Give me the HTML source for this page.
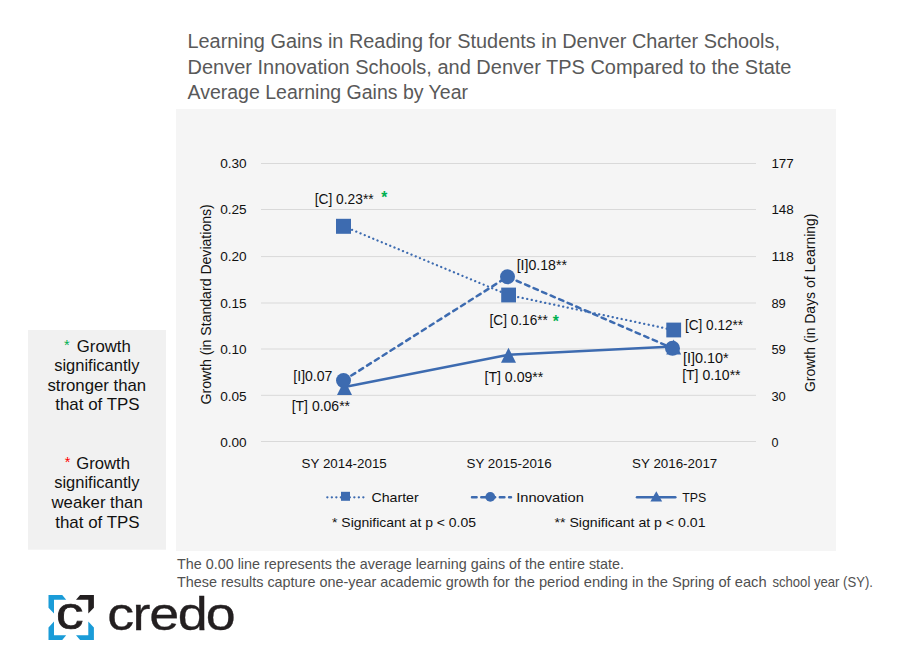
<!DOCTYPE html>
<html><head><meta charset="utf-8"><title>Learning Gains in Reading</title>
<style>
html,body{margin:0;padding:0;background:#fff;}
body{width:902px;height:670px;overflow:hidden;position:relative;font-family:"Liberation Sans",sans-serif;}
svg{position:absolute;left:0;top:0;display:block}
text{font-family:"Liberation Sans",sans-serif;}
.t{fill:#595959;font-size:20px}
.ax{fill:#111;font-size:13.6px}
.dl{fill:#111;font-size:13.8px}
.lg{fill:#111;font-size:13.4px}
.fn{fill:#505050;font-size:14.2px}
.side{fill:#111;font-size:16.6px}
</style></head>
<body>
<svg width="902" height="670" viewBox="0 0 902 670">
<rect x="0" y="0" width="902" height="670" fill="#ffffff"/>
<!-- panels -->
<rect x="176" y="109" width="660" height="442" fill="#f5f5f5"/>
<rect x="28" y="330" width="138" height="219.7" fill="#f1f1f1"/>

<!-- title -->
<text class="t" x="187.5" y="48.1" textLength="592.5" lengthAdjust="spacingAndGlyphs">Learning Gains in Reading for Students in Denver Charter Schools,</text>
<text class="t" x="187.5" y="73.8" textLength="604" lengthAdjust="spacingAndGlyphs">Denver Innovation Schools, and Denver TPS Compared to the State</text>
<text class="t" x="187.5" y="99.3" textLength="280.5" lengthAdjust="spacingAndGlyphs">Average Learning Gains by Year</text>

<!-- gridlines -->
<g stroke="#d9d9d9" stroke-width="1">
<line x1="261" x2="756" y1="163.5" y2="163.5"/>
<line x1="261" x2="756" y1="209.5" y2="209.5"/>
<line x1="261" x2="756" y1="256.6" y2="256.6"/>
<line x1="261" x2="756" y1="303" y2="303"/>
<line x1="261" x2="756" y1="349" y2="349"/>
<line x1="261" x2="756" y1="395.3" y2="395.3"/>
<line x1="261" x2="756" y1="441.5" y2="441.5"/>
</g>

<!-- left axis labels -->
<g class="ax">
<text x="220.2" y="167.9" textLength="26.5" lengthAdjust="spacingAndGlyphs">0.30</text>
<text x="220.2" y="214" textLength="26.5" lengthAdjust="spacingAndGlyphs">0.25</text>
<text x="220.2" y="261" textLength="26.5" lengthAdjust="spacingAndGlyphs">0.20</text>
<text x="220.2" y="308" textLength="26.5" lengthAdjust="spacingAndGlyphs">0.15</text>
<text x="220.2" y="354" textLength="26.5" lengthAdjust="spacingAndGlyphs">0.10</text>
<text x="220.2" y="401" textLength="26.5" lengthAdjust="spacingAndGlyphs">0.05</text>
<text x="220.2" y="446.8" textLength="26.5" lengthAdjust="spacingAndGlyphs">0.00</text>
</g>
<!-- right axis labels -->
<g class="ax">
<text x="771.4" y="167.9" textLength="22.4" lengthAdjust="spacingAndGlyphs">177</text>
<text x="771.4" y="214" textLength="22.4" lengthAdjust="spacingAndGlyphs">148</text>
<text x="771.4" y="261" textLength="22.4" lengthAdjust="spacingAndGlyphs">118</text>
<text x="771.4" y="308" textLength="14.4" lengthAdjust="spacingAndGlyphs">89</text>
<text x="771.4" y="354" textLength="14.4" lengthAdjust="spacingAndGlyphs">59</text>
<text x="771.4" y="401" textLength="14.4" lengthAdjust="spacingAndGlyphs">30</text>
<text x="771.4" y="446.8" textLength="7" lengthAdjust="spacingAndGlyphs">0</text>
</g>
<!-- axis titles -->
<text class="ax" style="font-size:13.9px" transform="translate(211.3,404.5) rotate(-90)" textLength="200.3" lengthAdjust="spacingAndGlyphs">Growth (in Standard Deviations)</text>
<text class="ax" style="font-size:13.9px" transform="translate(814.8,392) rotate(-90)" textLength="178.5" lengthAdjust="spacingAndGlyphs">Growth (in Days of Learning)</text>

<!-- category labels -->
<g class="ax" text-anchor="middle">
<text x="344.2" y="468" textLength="85.2" lengthAdjust="spacingAndGlyphs">SY 2014-2015</text>
<text x="509.1" y="468" textLength="85.2" lengthAdjust="spacingAndGlyphs">SY 2015-2016</text>
<text x="674.7" y="468" textLength="85.2" lengthAdjust="spacingAndGlyphs">SY 2016-2017</text>
</g>

<!-- series lines -->
<g fill="none" stroke="#3d6bb0" stroke-width="2.5" stroke-linecap="round">
<polyline points="343.5,226.3 508.5,295 673.5,330" stroke-dasharray="0.1,4.5" stroke-width="2.25"/>
<polyline points="343.5,380.5 507.5,276.8 672.5,348.2" stroke-dasharray="4.6,4.67"/>
<polyline points="344.5,387 508.5,354.7 673.5,346.5"/>
</g>
<!-- markers -->
<g fill="#3d6bb0">
<polygon points="344.5,380 352,395 337,395"/>
<polygon points="508.5,347.7 516,362.7 501,362.7"/>
<polygon points="673.7,339.6 681.2,354.4 666.2,354.4"/>
<rect x="336" y="218.8" width="15" height="15"/>
<rect x="501.2" y="287.6" width="14.8" height="14.8"/>
<rect x="666.3" y="322.6" width="14.8" height="14.8"/>
<circle cx="343.5" cy="380.5" r="7.5"/>
<circle cx="507.5" cy="276.8" r="7.5"/>
<circle cx="672.5" cy="348.2" r="7.5"/>
</g>

<!-- data labels -->
<g class="dl">
<text x="314.70" y="203.9" textLength="58.95" lengthAdjust="spacingAndGlyphs">[C] 0.23**</text>
<text x="293.32" y="381.0" textLength="39.10" lengthAdjust="spacingAndGlyphs">[I]0.07</text>
<text x="291.70" y="410.8" textLength="58.34" lengthAdjust="spacingAndGlyphs">[T] 0.06**</text>
<text x="516.70" y="270.3" textLength="50.26" lengthAdjust="spacingAndGlyphs">[I]0.18**</text>
<text x="489.55" y="324.7" textLength="58.25" lengthAdjust="spacingAndGlyphs">[C] 0.16**</text>
<text x="484.47" y="381.5" textLength="58.87" lengthAdjust="spacingAndGlyphs">[T] 0.09**</text>
<text x="685.01" y="329.6" textLength="58.12" lengthAdjust="spacingAndGlyphs">[C] 0.12**</text>
<text x="682.93" y="362.8" textLength="45.72" lengthAdjust="spacingAndGlyphs">[I]0.10*</text>
<text x="682.16" y="379.5" textLength="58.41" lengthAdjust="spacingAndGlyphs">[T] 0.10**</text>
</g>
<g font-size="15.6" font-weight="bold" fill="#00b050">
<text x="381.2" y="203.3">*</text>
<text x="552.8" y="327.1">*</text>
</g>

<!-- legend -->
<g fill="none" stroke="#3d6bb0" stroke-width="2.5" stroke-linecap="round">
<line x1="327.3" x2="365" y1="497.3" y2="497.3" stroke-dasharray="0.1,4.4" stroke-width="2.25"/>
<line x1="472" x2="511" y1="497.3" y2="497.3" stroke-dasharray="4.6,4.67"/>
<line x1="637" x2="675.3" y1="497.3" y2="497.3"/>
</g>
<g fill="#3d6bb0">
<rect x="341" y="491.8" width="9" height="9"/>
<circle cx="490.3" cy="496.9" r="4.9"/>
<polygon points="656.3,491.2 662.2,501.4 650.4,501.4"/>
</g>
<g class="lg">
<text x="371.4" y="502.4" textLength="47.3" lengthAdjust="spacingAndGlyphs">Charter</text>
<text x="516.2" y="502.4" textLength="67.6" lengthAdjust="spacingAndGlyphs">Innovation</text>
<text x="682.3" y="502.4" textLength="24" lengthAdjust="spacingAndGlyphs">TPS</text>
<text x="332" y="526.7" textLength="144" lengthAdjust="spacingAndGlyphs">* Significant at p &lt; 0.05</text>
<text x="554.5" y="526.7" textLength="151" lengthAdjust="spacingAndGlyphs">** Significant at p &lt; 0.01</text>
</g>

<!-- footnotes -->
<text class="fn" x="177" y="568.5" textLength="447" lengthAdjust="spacingAndGlyphs">The 0.00 line represents the average learning gains of the entire state.</text>
<text class="fn" x="177" y="586.5" textLength="332.8" lengthAdjust="spacingAndGlyphs">These results capture one-year academic growth for</text>
<text class="fn" x="514.4" y="586.5" textLength="252.2" lengthAdjust="spacingAndGlyphs">the period ending in the Spring of each</text>
<text class="fn" x="772.4" y="586.5" textLength="100.6" lengthAdjust="spacingAndGlyphs">school year (SY).</text>

<!-- side legend -->
<g class="side">
<text x="64" y="350.2" fill="#00b050" font-size="14.5">*</text>
<text x="76.8" y="351.6" textLength="54" lengthAdjust="spacingAndGlyphs">Growth</text>
<text x="54.2" y="371.3" textLength="85.2" lengthAdjust="spacingAndGlyphs">significantly</text>
<text x="47.4" y="390.6" textLength="98.8" lengthAdjust="spacingAndGlyphs">stronger than</text>
<text x="55.2" y="409.7" textLength="84.4" lengthAdjust="spacingAndGlyphs">that of TPS</text>
<text x="64.8" y="467.0" fill="#ff0000" font-size="14.5">*</text>
<text x="76.3" y="468.5" textLength="53.6" lengthAdjust="spacingAndGlyphs">Growth</text>
<text x="54.2" y="488.2" textLength="85.2" lengthAdjust="spacingAndGlyphs">significantly</text>
<text x="51.5" y="507.9" textLength="91.2" lengthAdjust="spacingAndGlyphs">weaker than</text>
<text x="55.2" y="527.7" textLength="84.4" lengthAdjust="spacingAndGlyphs">that of TPS</text>
</g>

<!-- logo -->
<g fill="#1a9cd8">
<polygon points="48.5,595.1 62.2,595.1 66.2,599.7 54,599.7 54,613.6 48.5,607.7"/>
<polygon points="48.5,639.9 62.2,639.9 66.2,635.2 54,635.2 54,621.6 48.5,627.4"/>
<polygon points="93.9,639.9 80.1,639.9 76,635.2 88.3,635.2 88.3,621.6 93.9,627.4"/>
</g>
<polygon fill="#231f20" points="93.9,595.1 80.1,595.1 76,599.7 88.3,599.7 88.3,613.4 93.9,607.7"/>
<text transform="translate(0,629) scale(1.2,1)" x="46.7" y="0" font-size="46" fill="#231f20" stroke="#231f20" stroke-width="0.7">c</text>
<text transform="translate(0,629.6) scale(1.17,1)" x="91.72 113.27 127.49 151.83 175.89" y="0" font-size="46" fill="#231f20" stroke="#231f20" stroke-width="0.3">credo</text>
</svg>
</body></html>
